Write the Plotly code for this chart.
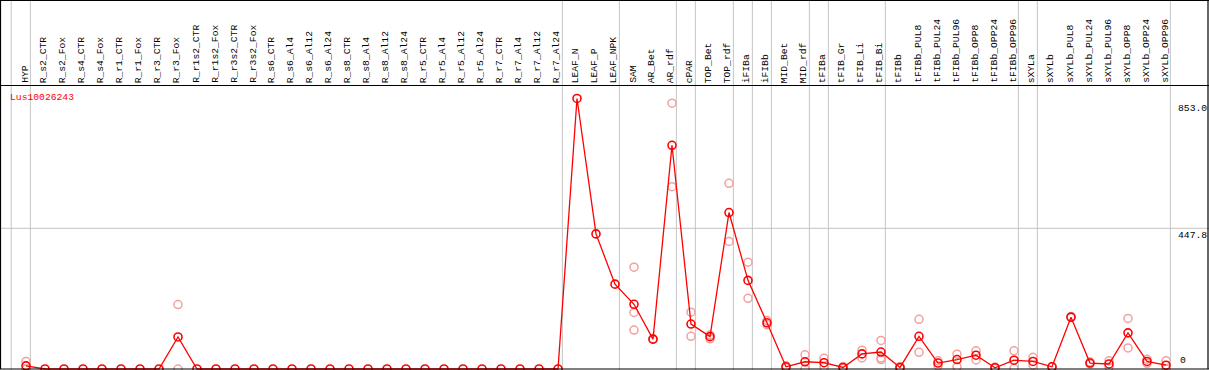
import plotly.graph_objects as go

categories = ["HYP", "R_s2_CTR", "R_s2_Fox", "R_s4_CTR", "R_s4_Fox", "R_r1_CTR", "R_r1_Fox",
              "R_r3_CTR", "R_r3_Fox", "R_r1s2_CTR", "R_r1s2_Fox", "R_r3s2_CTR", "R_r3s2_Fox",
              "R_s6_CTR", "R_s6_Al4", "R_s6_Al12", "R_s6_Al24", "R_s8_CTR", "R_s8_Al4",
              "R_s8_Al12", "R_s8_Al24", "R_r5_CTR", "R_r5_Al4", "R_r5_Al12", "R_r5_Al24",
              "R_r7_CTR", "R_r7_Al4", "R_r7_Al12", "R_r7_Al24", "LEAF_N", "LEAF_P", "LEAF_NPK",
              "SAM", "AR_Bet", "AR_rdf", "cPAR", "TOP_Bet", "TOP_rdf", "iFIBa", "iFIBb",
              "MID_Bet", "MID_rdf", "tFIBa", "tFIB_Gr", "tFIB_Li", "tFIB_Bi", "tFIBb",
              "tFIBb_PUL8", "tFIBb_PUL24", "tFIBb_PUL96", "tFIBb_OPP8", "tFIBb_OPP24",
              "tFIBb_OPP96", "sXYLa", "sXYLb", "sXYLb_PUL8", "sXYLb_PUL24", "sXYLb_PUL96",
              "sXYLb_OPP8", "sXYLb_OPP24", "sXYLb_OPP96"]

means = [10, 0, 0, 0, 0, 0, 0, 0, 102, 0, 0, 0, 0,
         0, 0, 0, 0, 0, 0, 0, 0, 0, 0, 0, 0, 0, 0, 0, 0,
         861, 430, 270, 206, 95, 712, 143, 103, 498, 282, 147,
         7, 23, 20, 5, 48, 54, 5, 104, 19, 30, 44, 4, 28,
         24, 7, 165, 19, 16, 115, 24, 12]

replicates = [[24, 0], [], [], [], [], [], [], [], [205, 0], [], [], [], [],
              [], [], [], [], [], [], [], [], [], [], [], [], [], [], [], [],
              [], [], [], [324, 180, 124], [96, 94], [846, 580], [181, 104], [108, 96],
              [591, 406], [340, 225], [154, 141],
              [10, 4], [45, 0], [34, 6], [8, 2], [60, 35], [91, 35, 30], [8, 2],
              [158, 53], [26, 10], [47, 7], [58, 29], [6, 2], [58, 2],
              [37, 12], [8, 6], [167, 164], [22, 16], [26, 6], [161, 67], [31, 18], [26, 0]]

group_ends = [0, 28, 31, 34, 35, 37, 38, 39, 41, 42, 45, 52, 53, 60]
y_ticks = [853.0, 447.8, 0]
gene = "Lus10026243"

W, H = 1209, 370
PX = 19.0
x0 = 26.0
xr = [-x0 / PX, (W - x0) / PX]
scale = (369 - 228.3) / 447.8
yr = [-(H - 369) / scale, 369 / scale]
FONT = "Liberation Mono"


def py(pix):
    return 1 - pix / H


idx = list(range(len(categories)))
rx, ry = [], []
for i, reps in enumerate(replicates):
    for v in reps:
        rx.append(i)
        ry.append(v)

fig = go.Figure()
fig.add_trace(go.Scatter(x=rx, y=ry, mode="markers",
                         marker=dict(symbol="circle-open", size=8, color="#f2a0a0",
                                     line=dict(width=1.5, color="#f2a0a0")),
                         hoverinfo="skip", showlegend=False))
fig.add_trace(go.Scatter(x=idx, y=means, mode="lines+markers",
                         line=dict(color="#ff0000", width=1.3),
                         marker=dict(symbol="circle-open", size=8, color="#ff0000",
                                     line=dict(width=1.6, color="#ff0000")),
                         showlegend=False))

shapes = []
vlines = [-0.78] + [e + 0.23 for e in group_ends]
for xv in vlines:
    shapes.append(dict(type="line", xref="x", yref="paper", x0=xv, x1=xv, y0=0, y1=1,
                       line=dict(color="#c4c4c4", width=1), layer="below"))
shapes.append(dict(type="line", xref="paper", yref="y", x0=0, x1=1, y0=447.8, y1=447.8,
                   line=dict(color="#c4c4c4", width=1), layer="below"))
# frame and separator
for (a, b, c, d) in [(0.5 / W, py(0.5), 0.5 / W, py(369)),
                     (1208 / W, py(0.5), 1208 / W, py(369)),
                     (0, py(0.5), 1, py(0.5)),
                     (0, py(369), 1, py(369)),
                     (0, py(85.5), 1, py(85.5))]:
    shapes.append(dict(type="line", xref="paper", yref="paper", x0=a, x1=c, y0=b, y1=d,
                       line=dict(color="black", width=1.2), layer="above"))

font = dict(family=FONT, size=9.7, color="black")
annotations = []
for i, c in enumerate(categories):
    annotations.append(dict(text=c, x=i - 0.06, xref="x", y=py(84), yref="paper",
                            xanchor="center", yanchor="bottom", textangle=-90,
                            showarrow=False, font=font, borderpad=0))
annotations.append(dict(text=gene, x=9 / W, xref="paper", y=py(98), yref="paper",
                        xanchor="left", yanchor="middle", showarrow=False,
                        font=dict(family=FONT, size=9.7, color="#ff0000"),
                        borderpad=0))
for v in y_ticks:
    if v == 0:
        yp, ya, xp = py(367), "bottom", 1179
    else:
        yp, ya, xp = py(369 - v * scale + 1), "top", 1177
    annotations.append(dict(text=f"{v:.1f}" if v else "0", x=xp / W, xref="paper",
                            y=yp, yref="paper", xanchor="left", yanchor=ya,
                            showarrow=False, font=font, borderpad=0))

fig.update_layout(width=W, height=H, margin=dict(l=0, r=0, t=0, b=0),
                  paper_bgcolor="white", plot_bgcolor="white",
                  xaxis=dict(range=xr, visible=False, fixedrange=True),
                  yaxis=dict(range=yr, visible=False, fixedrange=True),
                  shapes=shapes, annotations=annotations)
fig.write_html("out.html", config={"displayModeBar": False},
               post_script="document.body.style.margin='0';document.body.style.overflow='hidden';")
